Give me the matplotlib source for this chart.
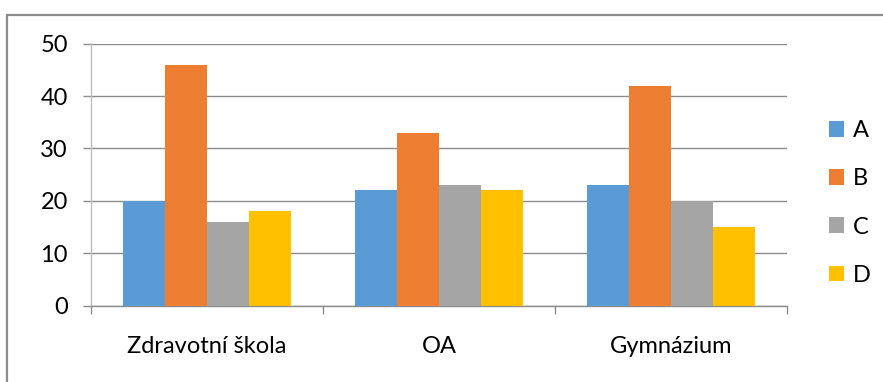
import numpy as np
import matplotlib.pyplot as plt
from matplotlib.patches import Patch, Rectangle

# data
schools = ["Zdravotní škola", "OA", "Gymnázium"]
series = ["A", "B", "C", "D"]
vals_a = [20, 22, 23]
vals_b = [46, 33, 42]
vals_c = [16, 23, 20]
vals_d = [18, 22, 15]
yticks = [0, 10, 20, 30, 40, 50]

colors = ["#5B9BD5", "#ED7D31", "#A5A5A5", "#FFC000"]
grid_col = "#8C8C8C"

plt.rcParams["font.family"] = ["Lato", "DejaVu Sans"]
plt.rcParams["font.size"] = 17

fig = plt.figure(figsize=(8.83, 3.82), dpi=100)
ax = fig.add_axes([0.1027, 0.1997, 0.789, 0.686])

# outer chart frame (only top/left visible)
fig.patches.append(Rectangle((6.5 / 883, -0.1), 1.2, 1 - 14.5 / 382 + 0.1,
                             transform=fig.transFigure, fill=False,
                             edgecolor="#8C8C8C", linewidth=1.6))

x = np.arange(len(schools))
w = 0.181
all_vals = [vals_a, vals_b, vals_c, vals_d]
for i, (vals, col) in enumerate(zip(all_vals, colors)):
    ax.bar(x + (i - 1.5) * w, vals, width=w, color=col, zorder=3)

ax.set_xlim(-0.5, 2.5)
ax.set_ylim(0, 50)
ax.set_yticks(yticks)
ax.yaxis.grid(True, color=grid_col, linewidth=1, zorder=0)

ax.set_xticks(x)
ax.set_xticklabels(schools)
ax.set_xticks([-0.5, 0.5, 1.5, 2.5], minor=True)
ax.tick_params(axis="x", which="major", length=0, pad=22)
ax.tick_params(axis="x", which="minor", length=5.5, color=grid_col, width=1)
ax.tick_params(axis="y", length=5.5, color=grid_col, width=1, pad=11)

for s in ["top", "right"]:
    ax.spines[s].set_visible(False)
for s in ["left", "bottom"]:
    ax.spines[s].set_color(grid_col)
    ax.spines[s].set_linewidth(1)
ax.spines["left"].set_color("#BFBFBF")

handles = [Patch(facecolor=c, edgecolor="none") for c in colors]
fig.legend(handles, series, loc="center left",
           bbox_to_anchor=(829 / 883, 1 - 203 / 382), frameon=False,
           handlelength=0.65, handleheight=0.65, handletextpad=0.35,
           labelspacing=1.15, borderaxespad=0, borderpad=0)

fig.savefig("out.png", dpi=100)
